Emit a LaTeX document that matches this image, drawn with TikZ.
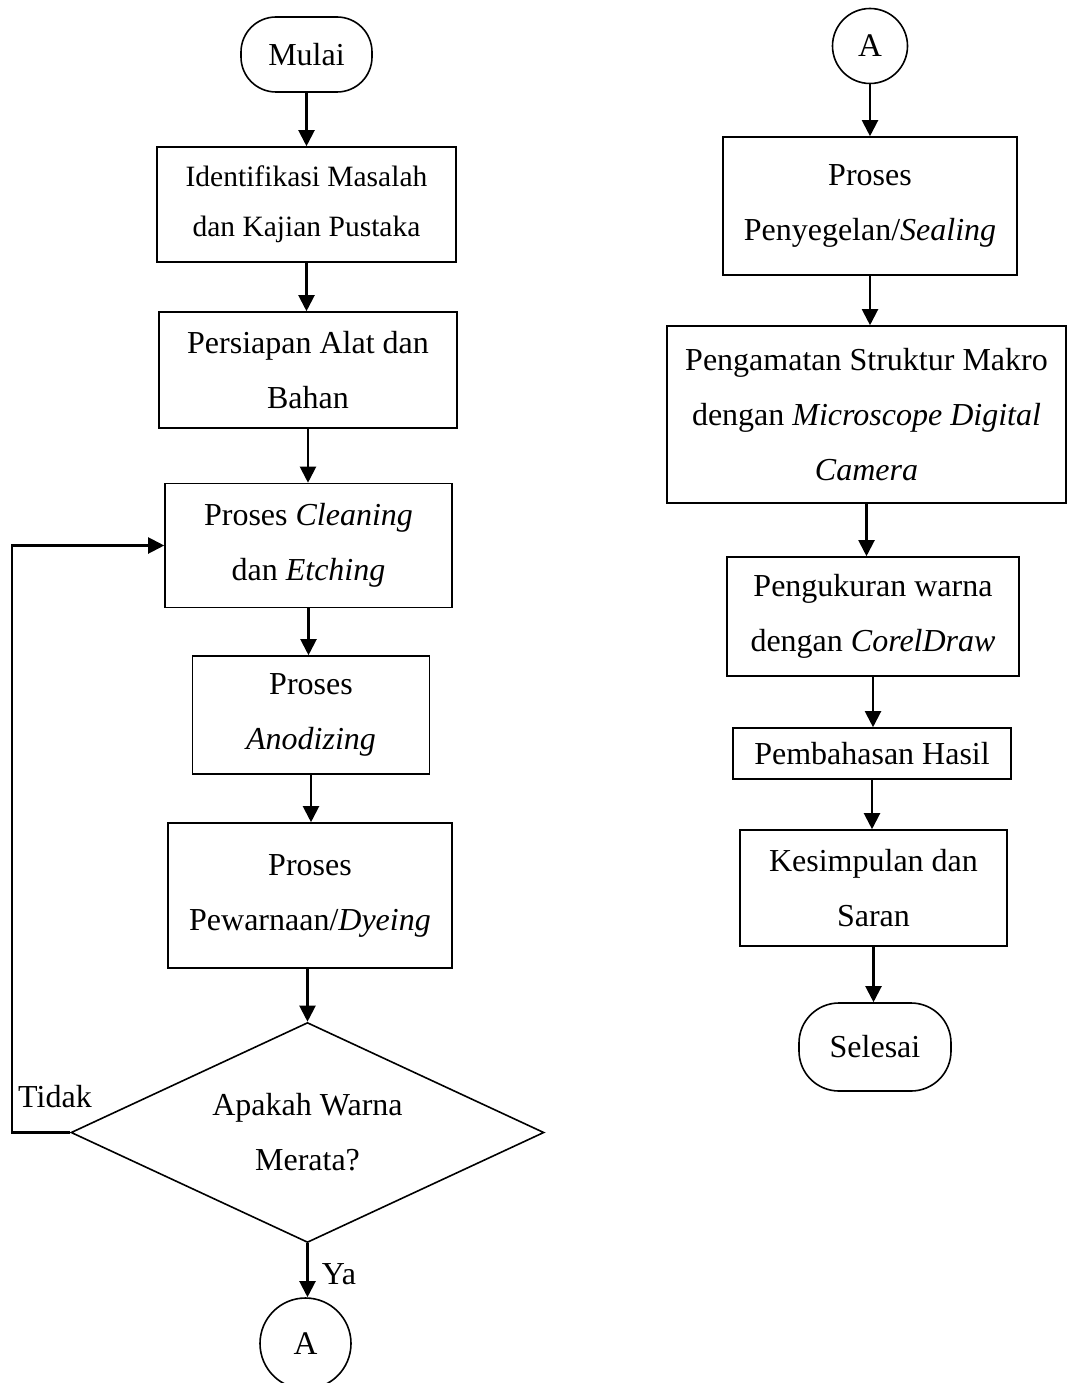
\documentclass[tikz,border=0pt]{standalone}
\usepackage{fontspec}
\setmainfont{Liberation Serif}
\usetikzlibrary{arrows.meta,shapes.geometric}
\begin{document}
\begin{tikzpicture}[x=1pt,y=-1pt,
 box/.style={draw,line width=1.6pt,rectangle,inner sep=0pt,align=center,font=\fontsize{32}{55}\selectfont},
 term/.style={draw,line width=1.6pt,rectangle,inner sep=0pt,font=\fontsize{32}{38}\selectfont},
 conn/.style={draw,circle,line width=1.6pt,inner sep=0pt,font=\fontsize{33}{38}\selectfont},
 decision/.style={draw,diamond,aspect=2.15,line width=1.6pt,inner sep=0pt,align=center,font=\fontsize{32}{55}\selectfont},
 arr/.style={line width=2.1pt,-{Triangle[length=16pt,width=16pt]}},
 lbl/.style={font=\fontsize{32}{38}\selectfont,inner sep=0pt}]
\useasboundingbox (0,0) rectangle (1067,1383);
% left column
\node[term,rounded corners=35pt,minimum width=131pt,minimum height=75pt] (mulai) at (306.5,54.5) {Mulai};
\node[box,minimum width=299pt,minimum height=115pt,font=\fontsize{29.5}{50}\selectfont] (b1) at (306.5,204.5) {Identifikasi Masalah\\dan Kajian Pustaka};
\node[box,minimum width=298pt,minimum height=116pt] (b2) at (308,370) {Persiapan Alat dan\\Bahan};
\node[box,minimum width=287pt,minimum height=124pt] (b3) at (308.5,545.5) {Proses \textit{Cleaning}\\dan \textit{Etching}};
\node[box,minimum width=237pt,minimum height=118pt] (b4) at (311,715) {Proses\\\textit{Anodizing}};
\node[box,minimum width=284pt,minimum height=145pt] (b5) at (310,895.5) {Proses\\Pewarnaan/\textit{Dyeing}};
\node[decision,minimum width=473pt,minimum height=220pt] (dec) at (307.5,1132.5) {Apakah Warna\\Merata?};
\node[conn,minimum size=91pt] (a1) at (305.5,1343.5) {A};
\node[lbl] (tidak) at (55,1097) {Tidak};
\node[lbl] (ya) at (339,1274) {Ya};
\coordinate (loopx) at (12,1132.5);
% right column
\node[conn,minimum size=75pt] (a2) at (870,46) {A};
\node[box,minimum width=294pt,minimum height=138pt] (r1) at (870,206) {Proses\\Penyegelan/\textit{Sealing}};
\node[box,minimum width=399pt,minimum height=177pt] (r2) at (866.5,414.5) {Pengamatan Struktur Makro\\dengan \textit{Microscope Digital}\\\textit{Camera}};
\node[box,minimum width=292pt,minimum height=119pt] (r3) at (873,616.5) {Pengukuran warna\\dengan \textit{CorelDraw}};
\node[box,minimum width=278pt,minimum height=51pt] (r4) at (872,753.5) {Pembahasan Hasil};
\node[box,minimum width=267pt,minimum height=116pt] (r5) at (873.5,888) {Kesimpulan dan\\Saran};
\node[term,rounded corners=40pt,minimum width=152pt,minimum height=88pt] (selesai) at (875,1047) {Selesai};
% connectors left
\draw[arr] (mulai.south) -- (mulai.south |- b1.north);
\draw[arr] (b1.south) -- (b1.south |- b2.north);
\draw[arr] (b2.south) -- (b2.south |- b3.north);
\draw[arr] (b3.south) -- (b3.south |- b4.north);
\draw[arr] (b4.south) -- (b4.south |- b5.north);
\draw[arr] (dec.north |- b5.south) -- (dec.north);
\draw[arr] (dec.south) -- (dec.south |- a1.north);
\draw[arr] (dec.west) -- (loopx) |- (b3.west);
% connectors right
\draw[arr] (a2.south) -- (a2.south |- r1.north);
\draw[arr] (r1.south) -- (r1.south |- r2.north);
\draw[arr] (r2.south) -- (r2.south |- r3.north);
\draw[arr] (r3.south) -- (r3.south |- r4.north);
\draw[arr] (r4.south) -- (r4.south |- r5.north);
\draw[arr] (r5.south) -- (r5.south |- selesai.north);
\end{tikzpicture}
\end{document}
